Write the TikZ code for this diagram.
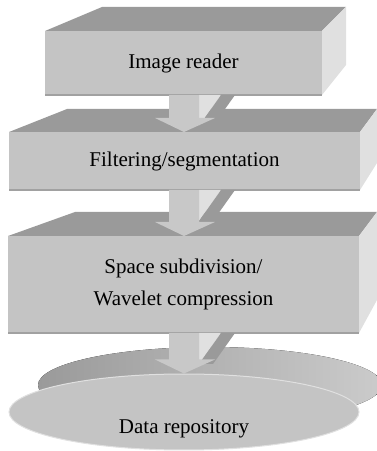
\documentclass[tikz,border=0pt]{standalone}
\usepackage{fontspec}
\setmainfont{Liberation Serif}
\usetikzlibrary{shapes.geometric,calc}

\definecolor{facefront}{HTML}{C4C4C4}
\definecolor{facetop}{HTML}{9A9A9A}
\definecolor{faceside}{HTML}{E0E0E0}
\definecolor{arrowbody}{HTML}{C8C8C8}

% block arrow from the bottom of #1 down to the top of #2
\newcommand{\blockarrow}[2]{%
  \coordinate (from) at (axis |- #1.south);
  \coordinate (tip) at (axis |- #2.north);
  \fill[faceside] ($(from)+(15,0)$) -- ++(22,0) -- ($(from)+(15,-31)$) -- cycle;
  \fill[facetop] ($(from)+(37,0)$) -- ++(14,0) -- ($(from)+(29,-31)$) -- ($(from)+(15,-31)$) -- cycle;
  \fill[arrowbody] ($(from)+(-15,0)$) -- ($(tip)+(-15,14)$) -- ($(tip)+(-29,14)$) -- (tip)
    -- ($(tip)+(31,14)$) -- ($(tip)+(15,14)$) -- ($(from)+(15,0)$) -- cycle;
}

\begin{document}
\begin{tikzpicture}[x=1pt, y=1pt,
    every node/.style={font=\fontsize{21}{32}\selectfont},
    front/.style={rectangle, fill=facefront, inner sep=0pt, outer sep=0pt, align=center},
    rim/.style={draw=facefront!82!black, line width=1.5pt}]
  \useasboundingbox (0,0) rectangle (377,451);
  \coordinate (axis) at (184,0);

  % image reader
  \node[front, minimum width=277pt, minimum height=64pt] (reader) at (183.5,388) {Image reader};
  \fill[facetop] (reader.north west) -- ++(57,24) -- ++(244,0) -- (reader.north east) -- cycle;
  \fill[faceside] (reader.north east) -- ++(24,24) -- ++(0,-58) -- (reader.south east) -- cycle;
  \draw[rim] (reader.south west) -- (reader.south east);

  % filtering
  \node[front, minimum width=351pt, minimum height=58pt] (filter) at (184.5,290) {Filtering/segmentation};
  \fill[facetop] (filter.north west) -- ++(58,23) -- ++(310,0) -- (filter.north east) -- cycle;
  \fill[faceside] (filter.north east) -- ++(17,23) -- ++(0,-54) -- (filter.south east) -- cycle;
  \draw[rim] (filter.south west) -- (filter.south east);

  \blockarrow{reader}{filter}

  % subdivision / compression
  \node[front, minimum width=351pt, minimum height=97pt] (subdiv) at (183.5,166.5)
    {Space subdivision/\\Wavelet compression};
  \fill[facetop] (subdiv.north west) -- ++(67,24) -- ++(302,0) -- (subdiv.north east) -- cycle;
  \fill[faceside] (subdiv.north east) -- ++(18,24) -- ++(0,-88) -- (subdiv.south east) -- cycle;
  \draw[rim] (subdiv.south west) -- (subdiv.south east);

  \blockarrow{filter}{subdiv}

  % repository disk
  \fill[left color=facetop, right color=faceside!70!facetop] (210,66) ellipse [x radius=172, y radius=38];
  \node[ellipse, fill=facefront, draw=faceside, line width=1pt, inner sep=0pt,
    minimum width=350pt, minimum height=76pt] (repo) at (184,39) {};
  \node (repolabel) at ($(repo.center)+(0,-17)$) {Data repository};

  \blockarrow{subdiv}{repo}
\end{tikzpicture}
\end{document}
